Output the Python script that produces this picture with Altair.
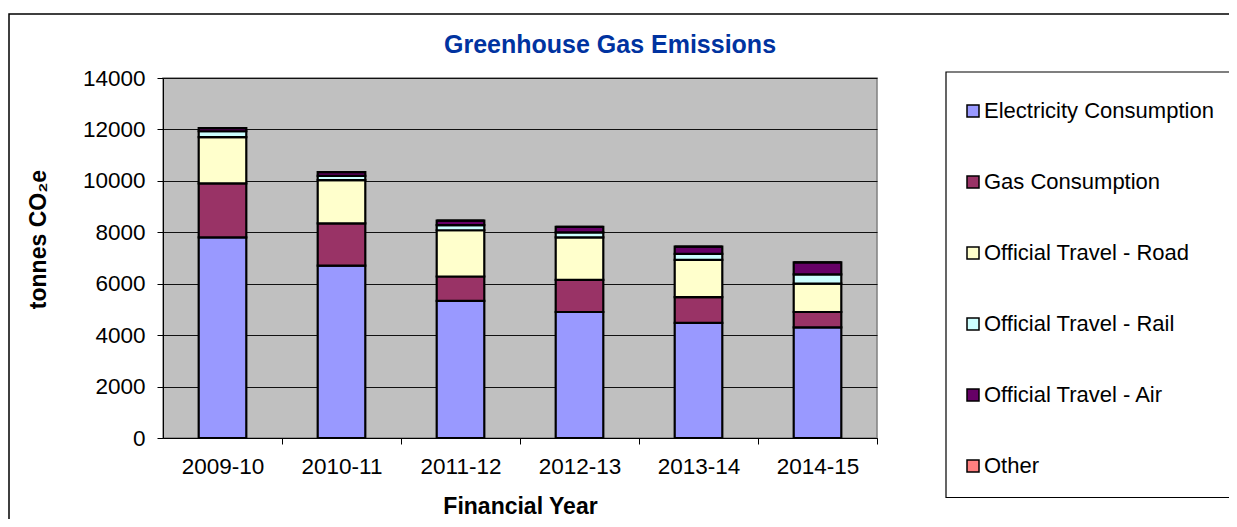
import altair as alt
import pandas as pd

years = ["2009-10", "2010-11", "2011-12", "2012-13", "2013-14", "2014-15"]
series = ["Electricity Consumption", "Gas Consumption", "Official Travel - Road",
          "Official Travel - Rail", "Official Travel - Air", "Other"]
electricity = [7800, 6700, 5330, 4900, 4480, 4300]
gas = [2100, 1650, 950, 1250, 1000, 600]
road = [1800, 1680, 1800, 1650, 1450, 1100]
rail = [230, 160, 200, 200, 230, 360]
air = [120, 150, 170, 210, 280, 470]
other = [0, 0, 0, 0, 0, 0]
colors = ["#9999FF", "#993366", "#FFFFCC", "#CCFFFF", "#660066", "#FF8080"]
title_text = "Greenhouse Gas Emissions"

values = [electricity, gas, road, rail, air, other]
rows = []
for si, (s, vals) in enumerate(zip(series, values)):
    for y, v in zip(years, vals):
        rows.append({"Year": y, "Series": s, "Value": v, "order": si})
df = pd.DataFrame(rows)

FONT = "Liberation Sans"
STEP = 714 / 6

bars = alt.Chart(df).mark_bar(stroke="black", strokeWidth=2.2).encode(
    x=alt.X("Year:N", sort=years,
            scale=alt.Scale(paddingInner=0.6, paddingOuter=0.3),
            axis=alt.Axis(title="Financial Year", labelAngle=0, ticks=True,
                          tickSize=6, tickColor="black", tickOffset=STEP / 2,
                          labelOffset=-STEP / 2,
                          labelPadding=11, titlePadding=18,
                          domainColor="black", domainWidth=1)),
    y=alt.Y("Value:Q", stack="zero",
            scale=alt.Scale(domain=[0, 14000]),
            axis=alt.Axis(title="tonnes CO₂e", values=list(range(0, 14001, 2000)),
                          format="d", titleY=161,
                          tickSize=6, tickColor="black", labelPadding=12,
                          titlePadding=32, gridColor="#111111", gridWidth=1,
                          domainColor="black", domainWidth=1)),
    fill=alt.Fill("Series:N", sort=series,
                  scale=alt.Scale(domain=series, range=colors),
                  legend=alt.Legend(title=None, orient="none", legendX=799, legendY=22,
                                    symbolType="square", symbolSize=144,
                                    symbolStrokeColor="black", symbolStrokeWidth=1.5,
                                    labelFontSize=22, labelFont=FONT, labelOffset=0,
                                    labelLimit=400,
                                    rowPadding=49, padding=0)),
    order=alt.Order("order:Q"),
)

one = pd.DataFrame({"a": [0]})
frame = alt.Chart(one).mark_rect(fill=None, stroke="black", strokeWidth=1.5).encode(
    x=alt.value(-154), x2=alt.value(1100), y=alt.value(-64), y2=alt.value(470)
)
legend_box = alt.Chart(one).mark_rect(fill="white", stroke="black", strokeWidth=1.2).encode(
    x=alt.value(783), x2=alt.value(1100), y=alt.value(-6), y2=alt.value(419.5)
)
title = alt.Chart(one).mark_text(
    text=title_text, font=FONT, fontSize=25, fontWeight="bold", color="#0033A0",
    align="center", baseline="alphabetic"
).encode(x=alt.value(447), y=alt.value(-25))

chart = alt.layer(frame, legend_box, bars, title).properties(
    width=714, height=360,
    autosize=alt.AutoSizeParams(type="none"),
    padding={"left": 155, "top": 70, "right": 352, "bottom": 81},
).configure_view(
    fill="#C0C0C0", stroke="#808080", strokeWidth=1.5
).configure_axis(
    labelFont=FONT, labelFontSize=22.5, labelColor="black",
    titleFont=FONT, titleFontSize=23, titleFontWeight="bold", titleColor="black",
).configure_axisX(grid=False)

chart.save("out.html", embed_options={"renderer": "svg", "actions": False})
